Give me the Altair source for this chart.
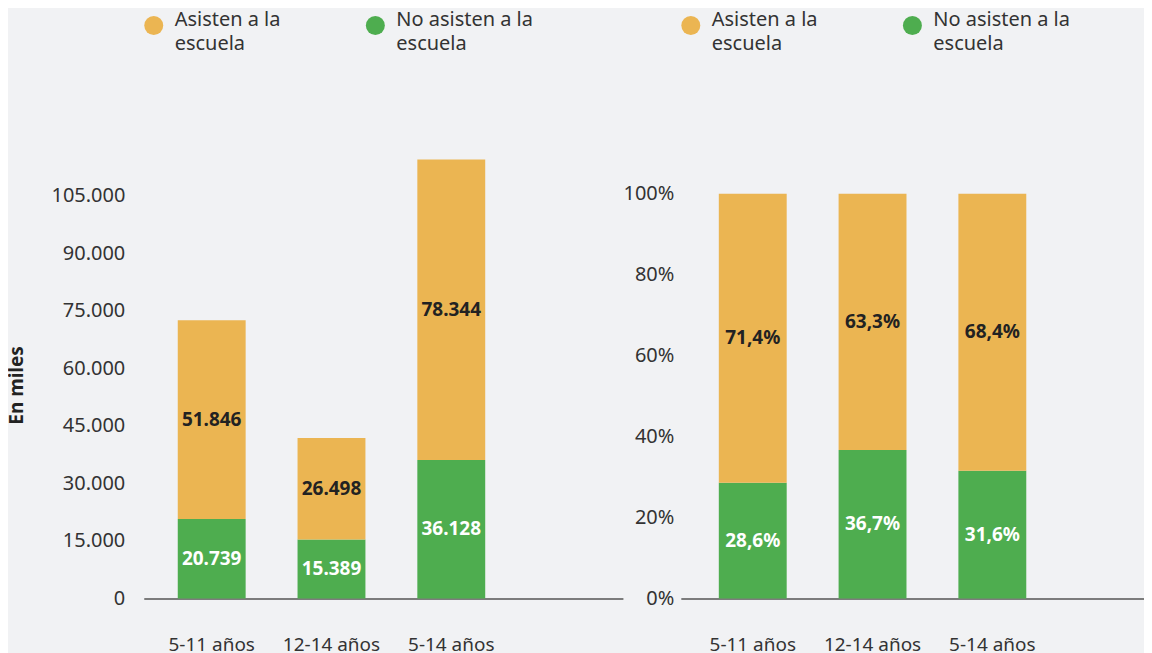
import altair as alt
import pandas as pd

categorias = ["5-11 años", "12-14 años", "5-14 años"]
series = ["Asisten a la escuela", "No asisten a la escuela"]
asisten_miles = [51846, 26498, 78344]
no_asisten_miles = [20739, 15389, 36128]
asisten_pct = [71.4, 63.3, 68.4]
no_asisten_pct = [28.6, 36.7, 31.6]
ticks_miles = [0, 15000, 30000, 45000, 60000, 75000, 90000, 105000]
ticks_pct = [0, 20, 40, 60, 80, 100]

AMARILLO = "#EBB552"
VERDE = "#4EAD4F"
FONDO = "#F1F2F4"
FUENTE = "Noto Sans"


def fmt_miles(v):
    return f"{v:,}".replace(",", ".")


def fmt_pct(v):
    return f"{v:.1f}".replace(".", ",") + "%"


def tabla(asis, noasis, fmt):
    rows = []
    for i, c in enumerate(categorias):
        rows.append(dict(cat=c, serie=series[1], valor=noasis[i], orden=0, etiqueta=fmt(noasis[i])))
        rows.append(dict(cat=c, serie=series[0], valor=asis[i], orden=1, etiqueta=fmt(asis[i])))
    return pd.DataFrame(rows)


df_miles = tabla(asisten_miles, no_asisten_miles, fmt_miles)
df_pct = tabla(asisten_pct, no_asisten_pct, fmt_pct)

label_legend = ("datum.label == 'Asisten a la escuela' ? ['Asisten a la', 'escuela']"
                " : ['No asisten a la', 'escuela']")


def panel(df, ymax, ticks, y_label_expr, y_label_pad, width, align, po, y_title=None):
    color = alt.Color(
        "serie:N",
        scale=alt.Scale(domain=series, range=[AMARILLO, VERDE]),
        legend=alt.Legend(
            orient="none", legendX=0, legendY=-123, direction="horizontal", columns=2,
            title=None, symbolType="circle", symbolSize=361, symbolStrokeWidth=0,
            labelFontSize=20, labelFont=FUENTE, labelColor="#333", labelExpr=label_legend,
            labelOffset=11, columnPadding=85, labelBaseline="alphabetic", padding=0,
            labelLimit=300,
        ),
    )
    x = alt.X(
        "cat:N", sort=categorias,
        scale=alt.Scale(paddingInner=0.4333, paddingOuter=po, align=align),
        axis=alt.Axis(title=None, labelAngle=0, ticks=False, labelPadding=37,
                      domainColor="#555", domainWidth=1.5, labelFontSize=19,
                      labelColor="#333", labelFont=FUENTE, grid=False),
    )
    axis_y = dict(values=ticks, labelExpr=y_label_expr, domain=False, ticks=False, grid=False,
                  labelPadding=y_label_pad, labelFontSize=20, labelColor="#333", labelFont=FUENTE)
    if y_title:
        axis_y.update(title=y_title, titleFontSize=19, titleFontWeight="bold", titleColor="#222",
                      titleFont=FUENTE, titleX=-127, titleY=247, titleAlign="center",
                      titleBaseline="middle", titleAngle=270)
    else:
        axis_y.update(title=None)
    y = alt.Y("valor:Q", stack="zero", scale=alt.Scale(domain=[0, ymax], nice=False),
              axis=alt.Axis(**axis_y))
    base = alt.Chart(df)
    bars = base.mark_bar().encode(x=x, y=y, color=color, order=alt.Order("orden:Q"))
    text = (
        base.transform_stack(stack="valor", groupby=["cat"], sort=[alt.SortField("orden")],
                             as_=["v0", "v1"])
        .transform_calculate(mid="(datum.v0 + datum.v1) / 2")
        .mark_text(fontSize=19, fontWeight="bold", font=FUENTE)
        .encode(
            x=alt.X("cat:N", sort=categorias),
            y=alt.Y("mid:Q"),
            text="etiqueta:N",
            color=alt.condition("datum.serie == 'Asisten a la escuela'",
                                alt.value("#222"), alt.value("white")),
        )
    )
    return alt.layer(bars, text).properties(width=width, height=461)


left = panel(df_miles, 120000, ticks_miles,
             "replace(format(datum.value, ','), ',', '.')", 19, 480, 0.198, 0.7167,
             y_title="En miles")
right = panel(df_pct, 113.7, ticks_pct, "datum.value + '%'", 7, 464, 0.244, 0.65)

chart = (
    alt.hconcat(left, right, spacing=0)
    .resolve_legend(color="independent")
    .resolve_scale(color="independent", y="independent")
    .properties(padding={"top": 7, "left": 0, "right": 0, "bottom": 0}, background=FONDO)
    .configure(style={"guide-label": {"lineHeight": 25}},
               view=alt.ViewConfig(stroke=None))
)

chart.save("out.html", embed_options={"renderer": "svg", "actions": False})
